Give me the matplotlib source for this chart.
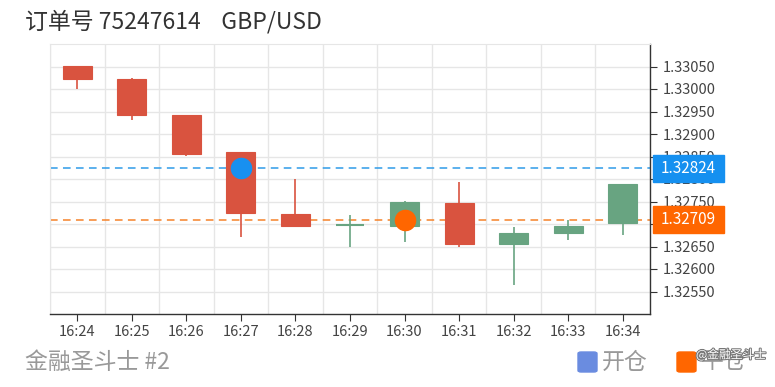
import matplotlib
matplotlib.use('Agg')
import matplotlib.pyplot as plt
import matplotlib.transforms as mtransforms
import matplotlib.patheffects as pe
from matplotlib.patches import Rectangle, FancyBboxPatch

plt.rcParams['font.family'] = ['Noto Sans CJK SC', 'DejaVu Sans']

# minute candles, GBP/USD
times = ['16:24', '16:25', '16:26', '16:27', '16:28', '16:29',
         '16:30', '16:31', '16:32', '16:33', '16:34']
opens = [1.33052, 1.33023, 1.32943, 1.32860, 1.32723, 1.32698,
         1.32695, 1.32747, 1.32656, 1.32680, 1.32702]
closes = [1.33023, 1.32942, 1.32856, 1.32724, 1.32696, 1.32698,
          1.32748, 1.32655, 1.32681, 1.32696, 1.32789]
highs = [1.33052, 1.33025, 1.32943, 1.32860, 1.32799, 1.32719,
         1.32752, 1.32793, 1.32693, 1.32708, 1.32789]
lows = [1.33000, 1.32932, 1.32852, 1.32672, 1.32696, 1.32650,
        1.32659, 1.32650, 1.32565, 1.32665, 1.32676]

open_idx, open_price = 3, 1.32824
close_idx, close_price = 6, 1.32709

yticks = [1.32550, 1.32600, 1.32650, 1.32700, 1.32750, 1.32800,
          1.32850, 1.32900, 1.32950, 1.33000, 1.33050]

red = '#d9533f'
green = '#68a481'
blue = '#1890f0'
orange = '#ff6600'

fig = plt.figure(figsize=(7.75, 3.87), dpi=100)
ax = fig.add_axes([50 / 775, (387 - 314) / 387, 600 / 775, 270 / 387])

x = list(range(len(times)))
w = 0.53
for i in x:
    o, c, h, l = opens[i], closes[i], highs[i], lows[i]
    col = green if c >= o else red
    ax.vlines(i, l, h, color=col, lw=1.2, zorder=3)
    if abs(c - o) < 1e-7:
        ax.hlines(o, i - w / 2, i + w / 2, color=col, lw=1.5, zorder=3)
    else:
        ax.bar(i, abs(c - o), bottom=min(o, c), width=w, color=col,
               edgecolor=col, lw=0.8, zorder=3)

ax.axhline(open_price, color='#2f9be8', lw=1.1, ls=(0, (5, 3.5)), zorder=2)
ax.axhline(close_price, color='#f5822a', lw=1.1, ls=(0, (5, 3.5)), zorder=2)
ax.plot(open_idx, open_price, 'o', ms=14.5, color=blue, mec=blue, zorder=5)
ax.plot(close_idx, close_price, 'o', ms=14.5, color=orange, mec=orange, zorder=5)

ax.set_xlim(-0.5, len(times) - 0.5)
ax.set_ylim(1.32500, 1.33100)
ax.set_xticks(x)
ax.set_xticklabels(times)
ax.set_xticks([i - 0.5 for i in range(len(times) + 1)], minor=True)
ax.set_yticks(yticks)
ax.set_yticklabels(['%.5f' % v for v in yticks])
ax.yaxis.tick_right()

ax.grid(True, which='minor', axis='x', color='#e6e6e6', lw=1)
ax.grid(True, which='major', axis='y', color='#e6e6e6', lw=1)
ax.set_axisbelow(True)

for s in ['top', 'left']:
    ax.spines[s].set_color('#e6e6e6')
for s in ['bottom', 'right']:
    ax.spines[s].set_color('#333333')
    ax.spines[s].set_linewidth(1)

ax.tick_params(axis='x', which='major', length=5, color='#333333',
               labelsize=10.5, labelcolor='#444444', pad=3)
ax.tick_params(axis='x', which='minor', length=0)
ax.tick_params(axis='y', length=5, color='#333333', labelsize=10.5,
               labelcolor='#444444', pad=4)

# price tags on the right axis
trans = mtransforms.blended_transform_factory(ax.transAxes, ax.transData)
tag_h = 27 / 45.0 * 0.001
for price, col in [(open_price, '#1590f0'), (close_price, orange)]:
    ax.add_patch(Rectangle((1.005, price - tag_h / 2), 0.118, tag_h,
                           transform=trans, color=col, clip_on=False, zorder=10))
    ax.text(1.064, price, '%.5f' % price, transform=trans, ha='center',
            va='center', color='white', fontsize=11, zorder=11, clip_on=False)

fig.text(25 / 775, 1 - 22 / 387, '订单号 75247614    GBP/USD', fontsize=16.5,
         color='#333333', va='center', ha='left')
fig.text(25 / 775, 1 - 362 / 387, '金融圣斗士 #2', fontsize=16.5,
         color='#999999', va='center', ha='left')

# legend at the bottom right
fig.patches.append(FancyBboxPatch((578 / 775, 1 - 372 / 387), 19 / 775, 20 / 387,
                                  boxstyle='round,pad=0,rounding_size=0.004',
                                  transform=fig.transFigure, color='#6a8ce0'))
fig.text(602 / 775, 1 - 362 / 387, '开仓', fontsize=16.5, color='#999999',
         va='center', ha='left')
fig.patches.append(FancyBboxPatch((677 / 775, 1 - 372 / 387), 19 / 775, 20 / 387,
                                  boxstyle='round,pad=0,rounding_size=0.004',
                                  transform=fig.transFigure, color=orange))
fig.text(701 / 775, 1 - 362 / 387, '平仓', fontsize=16.5, color='#999999',
         va='center', ha='left')
fig.text(696 / 775, 1 - 355 / 387, '@金融圣斗士', fontsize=8.5, color='white',
         va='center', ha='left',
         path_effects=[pe.withStroke(linewidth=1.5, foreground='#777777')])

fig.savefig('out.png', dpi=100)
